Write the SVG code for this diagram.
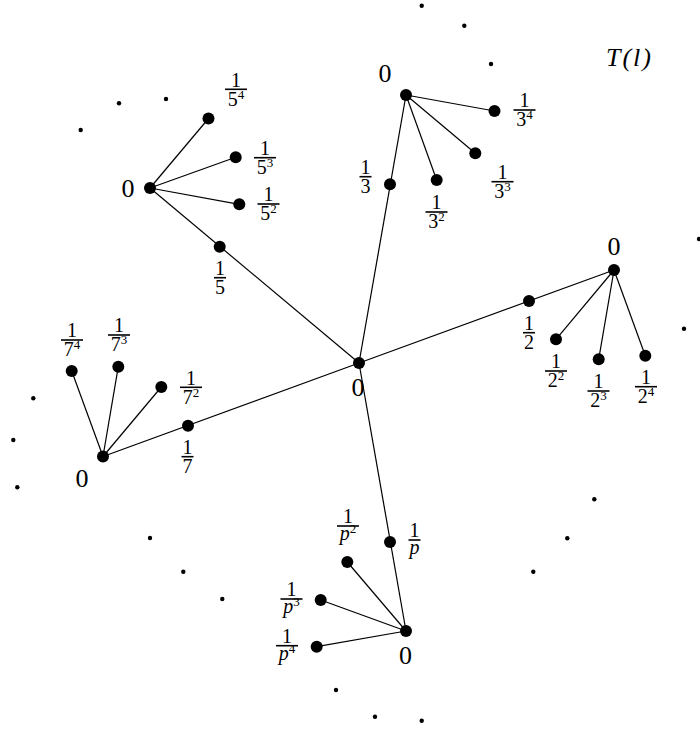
<svg xmlns="http://www.w3.org/2000/svg" width="700" height="731" viewBox="0 0 700 731">
<style>
.e{stroke:#000;stroke-width:1.2;fill:none}
.n{fill:#000}
.d{fill:#000}
.z{font-family:"Liberation Serif",serif;font-size:26px;text-anchor:middle;fill:#000}
.f{font-family:"Liberation Serif",serif;font-size:20px;text-anchor:middle;fill:#000}
.s{font-size:13px}
.i{font-style:italic}
.b{stroke:#000;stroke-width:1.6}
.t{font-family:"Liberation Serif",serif;font-size:26px;font-style:italic;fill:#000;letter-spacing:2px}
</style>
<rect width="700" height="731" fill="#fff"/>
<g id="connectors">
<line class="e" x1="359" y1="363" x2="150" y2="188"/>
<line class="e" x1="359" y1="363" x2="406" y2="95"/>
<line class="e" x1="359" y1="363" x2="614" y2="270"/>
<line class="e" x1="359" y1="363" x2="103" y2="456.5"/>
<line class="e" x1="359" y1="363" x2="406" y2="631"/>
<line class="e" x1="150" y1="188" x2="208.5" y2="118.5"/>
<line class="e" x1="150" y1="188" x2="235.7" y2="157.3"/>
<line class="e" x1="150" y1="188" x2="239.3" y2="204.3"/>
<line class="e" x1="406" y1="95" x2="494.5" y2="111"/>
<line class="e" x1="406" y1="95" x2="475.3" y2="153.3"/>
<line class="e" x1="406" y1="95" x2="436.7" y2="180"/>
<line class="e" x1="614" y1="270" x2="556" y2="339.3"/>
<line class="e" x1="614" y1="270" x2="598.7" y2="359.3"/>
<line class="e" x1="614" y1="270" x2="645.3" y2="355.7"/>
<line class="e" x1="103" y1="456.5" x2="71.7" y2="371"/>
<line class="e" x1="103" y1="456.5" x2="118.3" y2="366.7"/>
<line class="e" x1="103" y1="456.5" x2="161.3" y2="387"/>
<line class="e" x1="406" y1="631" x2="347.3" y2="562"/>
<line class="e" x1="406" y1="631" x2="320.7" y2="600"/>
<line class="e" x1="406" y1="631" x2="316.7" y2="646.7"/>
</g>
<g id="center"><circle class="n" cx="359" cy="363" r="6"/><text class="z" x="358" y="396">0</text></g>
<g id="hub5"><circle class="n" cx="150" cy="188" r="6"/><text class="z" x="128" y="197">0</text></g>
<g id="hub3"><circle class="n" cx="406" cy="95" r="6"/><text class="z" x="385" y="82">0</text></g>
<g id="hub2"><circle class="n" cx="614" cy="270" r="6"/><text class="z" x="614" y="255">0</text></g>
<g id="hub7"><circle class="n" cx="103" cy="456.5" r="6"/><text class="z" x="82" y="487">0</text></g>
<g id="hubp"><circle class="n" cx="406" cy="631" r="6"/><text class="z" x="405.5" y="664">0</text></g>
<g id="n5"><circle class="n" cx="219.7" cy="246.7" r="6"/><text class="f" x="220" y="275">1</text><line class="b" x1="214" y1="277.7" x2="226" y2="277.7"/><text class="f" x="220" y="294">5</text></g>
<g id="n54"><circle class="n" cx="208.5" cy="118.5" r="6"/><text class="f" x="236" y="86.5">1</text><line class="b" x1="225" y1="89.3" x2="247" y2="89.3"/><text class="f" x="236" y="105.5">5<tspan class="s" dy="-7">4</tspan></text></g>
<g id="n53"><circle class="n" cx="235.7" cy="157.3" r="6"/><text class="f" x="265" y="155">1</text><line class="b" x1="254" y1="157.7" x2="276" y2="157.7"/><text class="f" x="265" y="174">5<tspan class="s" dy="-7">3</tspan></text></g>
<g id="n52"><circle class="n" cx="239.3" cy="204.3" r="6"/><text class="f" x="268.5" y="201.3">1</text><line class="b" x1="257.5" y1="204" x2="279.5" y2="204"/><text class="f" x="268.5" y="220.3">5<tspan class="s" dy="-7">2</tspan></text></g>
<g id="n3"><circle class="n" cx="390" cy="184.3" r="6"/><text class="f" x="365.5" y="174">1</text><line class="b" x1="359.5" y1="176.7" x2="371.5" y2="176.7"/><text class="f" x="365.5" y="193">3</text></g>
<g id="n34"><circle class="n" cx="494.5" cy="111" r="6"/><text class="f" x="524.5" y="107.3">1</text><line class="b" x1="513.5" y1="110" x2="535.5" y2="110"/><text class="f" x="524.5" y="126.3">3<tspan class="s" dy="-7">4</tspan></text></g>
<g id="n33"><circle class="n" cx="475.3" cy="153.3" r="6"/><text class="f" x="502.5" y="179">1</text><line class="b" x1="491.5" y1="181.7" x2="513.5" y2="181.7"/><text class="f" x="502.5" y="198">3<tspan class="s" dy="-7">3</tspan></text></g>
<g id="n32"><circle class="n" cx="436.7" cy="180" r="6"/><text class="f" x="436.5" y="209.3">1</text><line class="b" x1="425.5" y1="212" x2="447.5" y2="212"/><text class="f" x="436.5" y="228.3">3<tspan class="s" dy="-7">2</tspan></text></g>
<g id="n2"><circle class="n" cx="529" cy="301" r="6"/><text class="f" x="529" y="330">1</text><line class="b" x1="523" y1="332.7" x2="535" y2="332.7"/><text class="f" x="529" y="349">2</text></g>
<g id="n22"><circle class="n" cx="556" cy="339.3" r="6"/><text class="f" x="556" y="368.3">1</text><line class="b" x1="545" y1="371" x2="567" y2="371"/><text class="f" x="556" y="387.3">2<tspan class="s" dy="-7">2</tspan></text></g>
<g id="n23"><circle class="n" cx="598.7" cy="359.3" r="6"/><text class="f" x="598.5" y="388.3">1</text><line class="b" x1="587.5" y1="391" x2="609.5" y2="391"/><text class="f" x="598.5" y="407.3">2<tspan class="s" dy="-7">3</tspan></text></g>
<g id="n24"><circle class="n" cx="645.3" cy="355.7" r="6"/><text class="f" x="646" y="384">1</text><line class="b" x1="635" y1="386.7" x2="657" y2="386.7"/><text class="f" x="646" y="403">2<tspan class="s" dy="-7">4</tspan></text></g>
<g id="n7"><circle class="n" cx="188" cy="425.7" r="6"/><text class="f" x="187.5" y="454">1</text><line class="b" x1="181.5" y1="456.7" x2="193.5" y2="456.7"/><text class="f" x="187.5" y="473">7</text></g>
<g id="n74"><circle class="n" cx="71.7" cy="371" r="6"/><text class="f" x="72" y="337.3">1</text><line class="b" x1="61" y1="340" x2="83" y2="340"/><text class="f" x="72" y="356.3">7<tspan class="s" dy="-7">4</tspan></text></g>
<g id="n73"><circle class="n" cx="118.3" cy="366.7" r="6"/><text class="f" x="119" y="332.3">1</text><line class="b" x1="108" y1="335" x2="130" y2="335"/><text class="f" x="119" y="351.3">7<tspan class="s" dy="-7">3</tspan></text></g>
<g id="n72"><circle class="n" cx="161.3" cy="387" r="6"/><text class="f" x="191" y="384.6">1</text><line class="b" x1="180" y1="387.3" x2="202" y2="387.3"/><text class="f" x="191" y="403.6">7<tspan class="s" dy="-7">2</tspan></text></g>
<g id="np"><circle class="n" cx="390" cy="542" r="6"/><text class="f" x="414.5" y="537.3">1</text><line class="b" x1="408.5" y1="540" x2="420.5" y2="540"/><text class="f i" x="414.5" y="554">p</text></g>
<g id="np2"><circle class="n" cx="347.3" cy="562" r="6"/><text class="f" x="348" y="523.3">1</text><line class="b" x1="337" y1="526" x2="359" y2="526"/><text class="f" x="348" y="540"><tspan class="i">p</tspan><tspan class="s" dy="-7">2</tspan></text></g>
<g id="np3"><circle class="n" cx="320.7" cy="600" r="6"/><text class="f" x="291.5" y="596.3">1</text><line class="b" x1="280.5" y1="599" x2="302.5" y2="599"/><text class="f" x="291.5" y="613"><tspan class="i">p</tspan><tspan class="s" dy="-7">3</tspan></text></g>
<g id="np4"><circle class="n" cx="316.7" cy="646.7" r="6"/><text class="f" x="287" y="643">1</text><line class="b" x1="276" y1="645.7" x2="298" y2="645.7"/><text class="f" x="287" y="659.7"><tspan class="i">p</tspan><tspan class="s" dy="-7">4</tspan></text></g>
<g id="title"><text class="t" x="606" y="66">T(l)</text></g>
<g id="ellipsis">
<circle class="d" cx="421.7" cy="5.7" r="2.2"/>
<circle class="d" cx="464.3" cy="25.7" r="2.2"/>
<circle class="d" cx="491" cy="64" r="2.2"/>
<circle class="d" cx="80.7" cy="130" r="2.2"/>
<circle class="d" cx="119" cy="103.3" r="2.2"/>
<circle class="d" cx="166" cy="99" r="2.2"/>
<circle class="d" cx="699" cy="239" r="2.2"/>
<circle class="d" cx="684" cy="328.7" r="2.2"/>
<circle class="d" cx="33.3" cy="398.3" r="2.2"/>
<circle class="d" cx="13.3" cy="440" r="2.2"/>
<circle class="d" cx="17.3" cy="487.3" r="2.2"/>
<circle class="d" cx="594.3" cy="499.3" r="2.2"/>
<circle class="d" cx="567.3" cy="538.3" r="2.2"/>
<circle class="d" cx="533.3" cy="571.7" r="2.2"/>
<circle class="d" cx="150" cy="538" r="2.2"/>
<circle class="d" cx="183.3" cy="571.7" r="2.2"/>
<circle class="d" cx="222.3" cy="599" r="2.2"/>
<circle class="d" cx="336" cy="690" r="2.2"/>
<circle class="d" cx="375" cy="716.7" r="2.2"/>
<circle class="d" cx="421.7" cy="720.7" r="2.2"/>
</g>
</svg>
